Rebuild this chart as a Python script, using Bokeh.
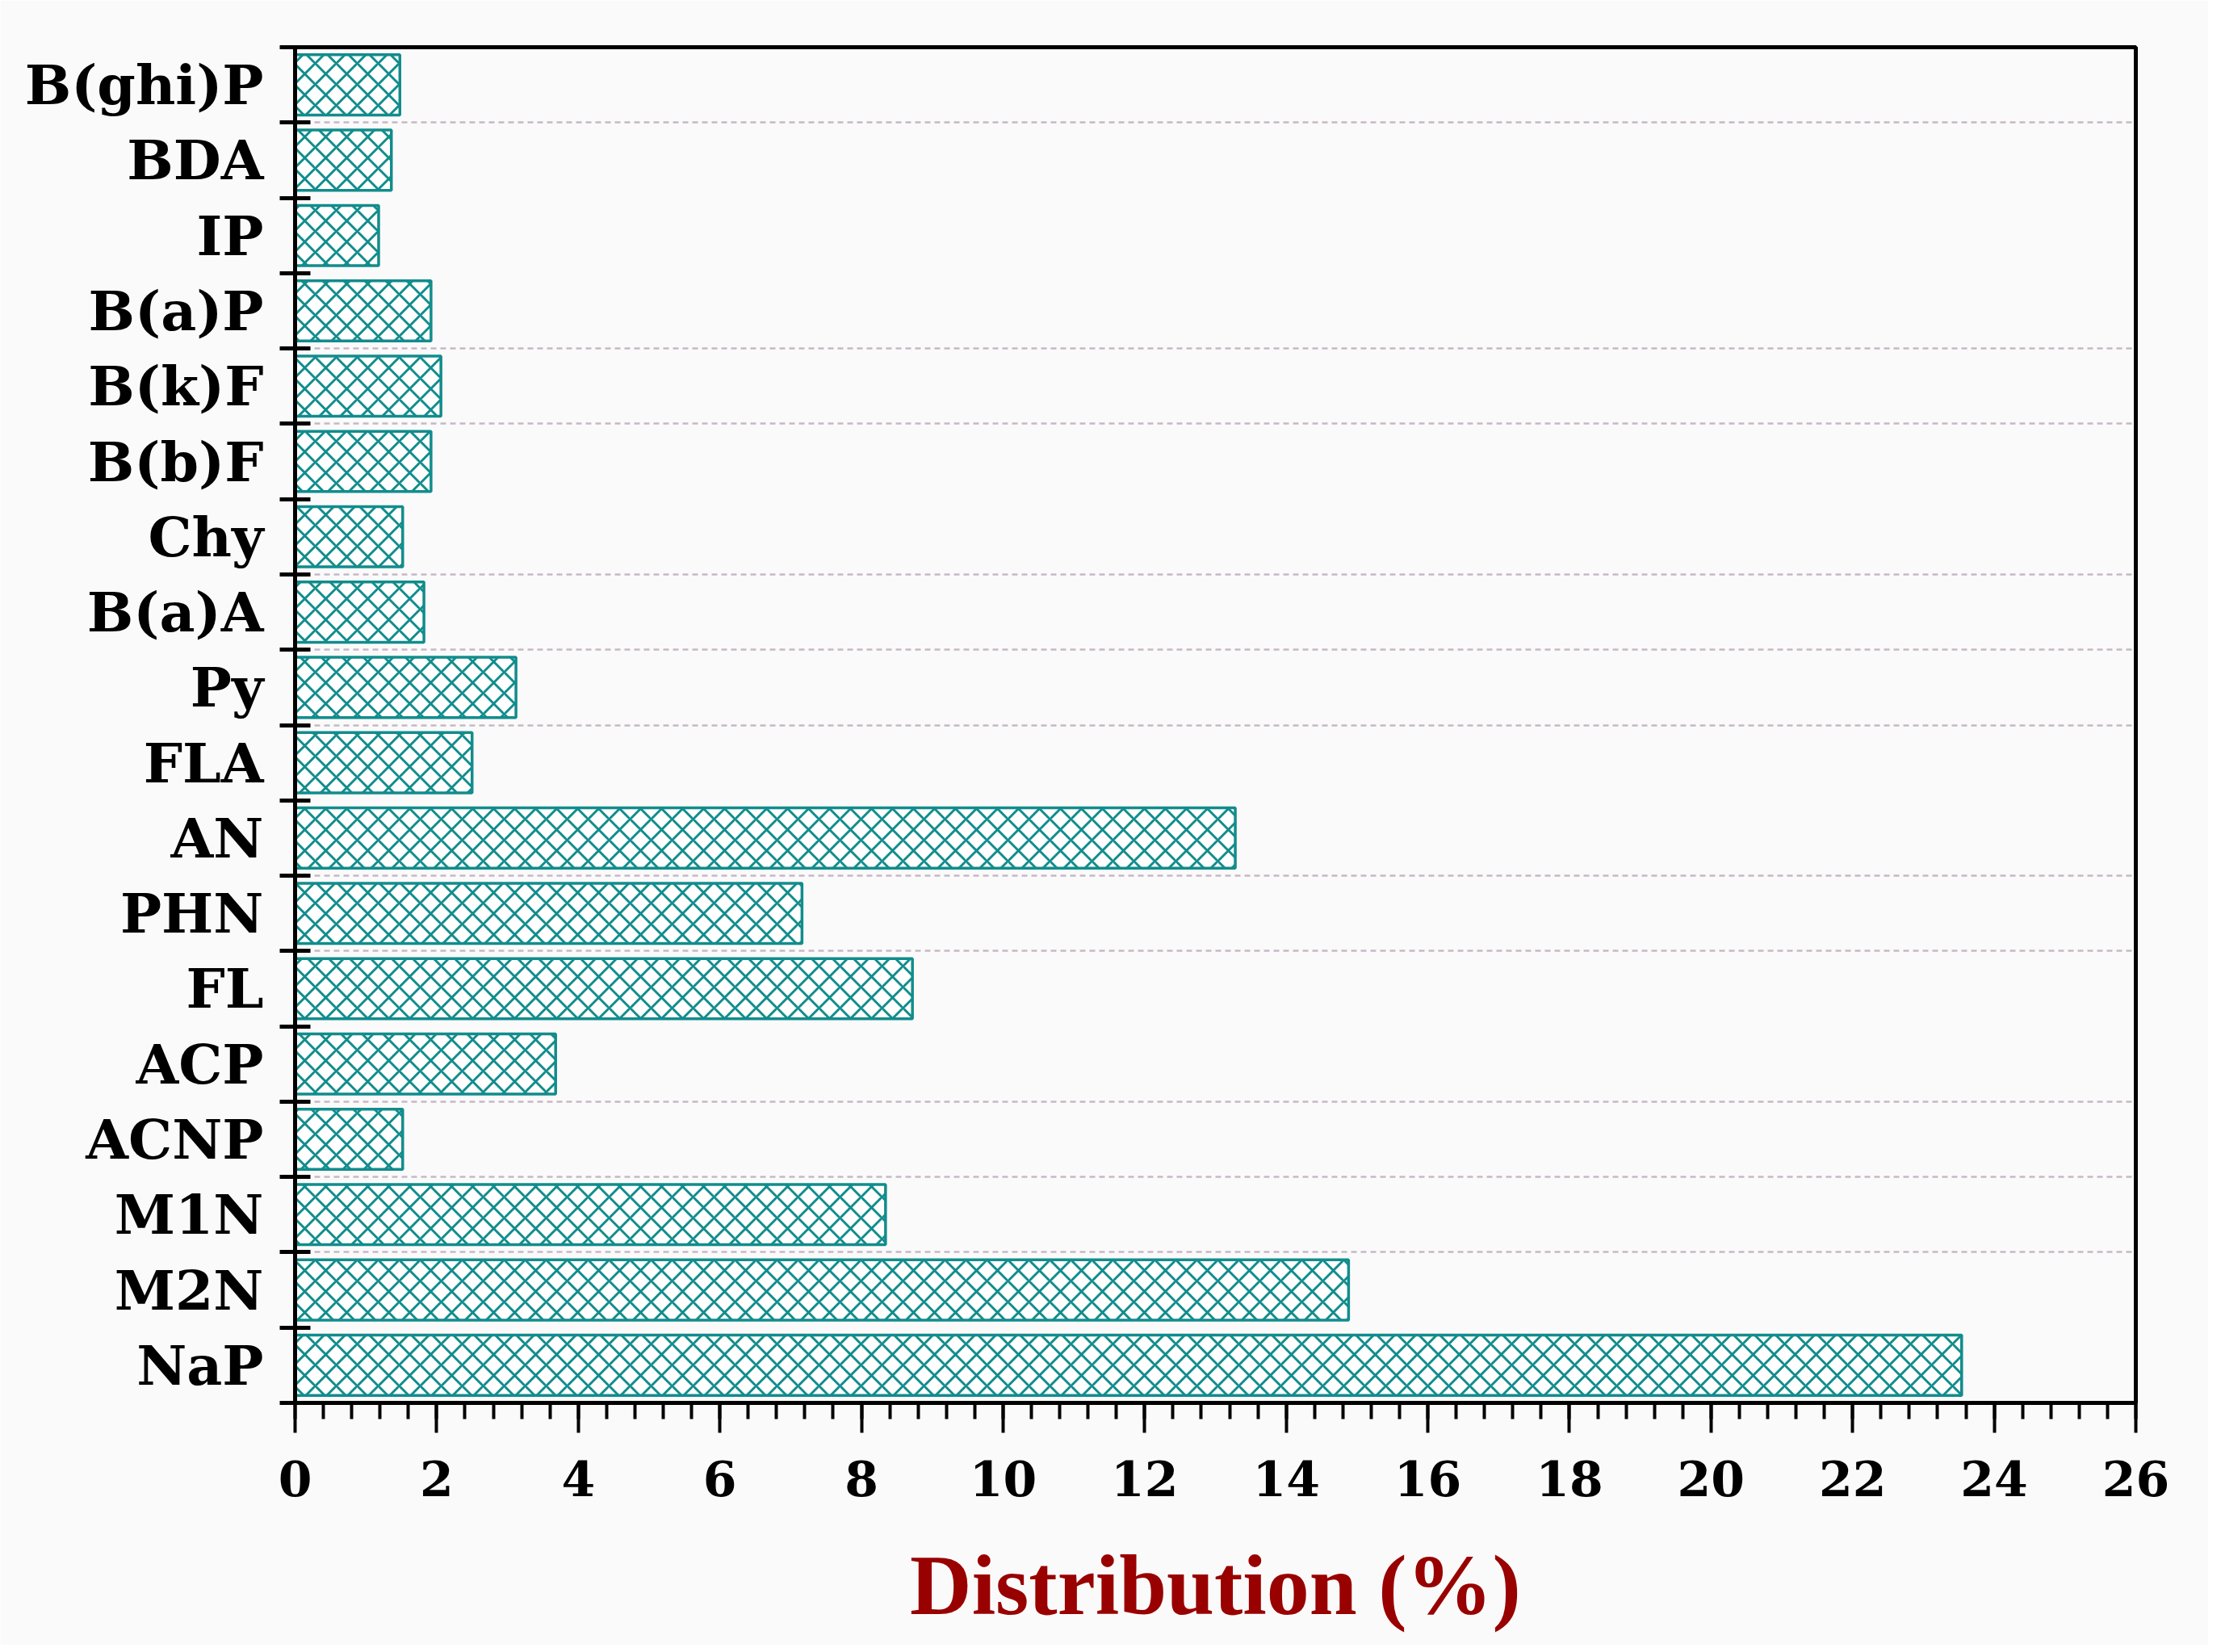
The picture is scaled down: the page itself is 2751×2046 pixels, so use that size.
from bokeh.plotting import figure
from bokeh.models import Range1d, FixedTicker, SingleIntervalTicker, ColumnDataSource
from bokeh.embed import file_html
from bokeh.resources import INLINE

# ---- data (top to bottom as in the chart) ----
compounds = ["B(ghi)P", "BDA", "IP", "B(a)P", "B(k)F", "B(b)F", "Chy", "B(a)A", "Py",
             "FLA", "AN", "PHN", "FL", "ACP", "ACNP", "M1N", "M2N", "NaP"]
distribution = [1.48, 1.36, 1.18, 1.92, 2.06, 1.92, 1.52, 1.82, 3.12,
                2.50, 13.28, 7.16, 8.72, 3.68, 1.52, 8.34, 14.88, 23.54]
x_label = "Distribution (%)"

n = len(compounds)
# position of each category (top = n-0.5 ... bottom = 0.5)
ypos = [n - i - 0.5 for i in range(n)]
boundaries = list(range(0, n + 1))
# dashed separators visible in the reference (counted from the top)
grid_from_top = [1, 4, 5, 7, 8, 9, 11, 12, 14, 15, 16]
grid_y = [n - k for k in grid_from_top]

BG = "#fbfafa"
TEAL = "#128c8c"

p = figure(width=2735, height=2037, output_backend="svg", toolbar_location=None,
           x_range=Range1d(0, 26), y_range=Range1d(0, n),
           min_border_left=365, min_border_right=90, min_border_top=58, min_border_bottom=300)
p.background_fill_color = BG
p.border_fill_color = BG
p.outline_line_color = "black"
p.outline_line_width = 5

src = ColumnDataSource(dict(y=ypos, v=distribution, name=compounds))
p.hbar(y="y", left=0, right="v", height=0.8, source=src,
       fill_color="white", line_color=TEAL, line_width=3.5,
       hatch_pattern="x", hatch_color=TEAL, hatch_scale=26, hatch_weight=3)

# x axis
xa = p.xaxis[0]
xa.ticker = SingleIntervalTicker(interval=2, num_minor_ticks=5)
xa.axis_line_width = 5
xa.major_tick_line_width = 4
xa.minor_tick_line_width = 4
xa.major_tick_out = 37
xa.major_tick_in = 0
xa.minor_tick_out = 20
xa.minor_tick_in = 0
xa.major_label_text_font = "DejaVu Serif"
xa.major_label_text_font_style = "bold"
xa.major_label_text_font_size = "60px"
xa.major_label_text_color = "black"
xa.major_label_standoff = 34
xa.axis_label = x_label
xa.axis_label_text_font = "Liberation Serif"
xa.axis_label_text_font_style = "bold"
xa.axis_label_text_font_size = "106px"
xa.axis_label_text_color = "#990000"
xa.axis_label_standoff = 49

# y axis: labels at category centres, tick marks at category boundaries
ya = p.yaxis[0]
ya.ticker = FixedTicker(ticks=ypos, minor_ticks=boundaries)
ya.major_label_overrides = {y: c for y, c in zip(ypos, compounds)}
ya.major_tick_line_color = None
ya.minor_tick_line_color = "black"
ya.minor_tick_line_width = 5
ya.minor_tick_in = 19
ya.minor_tick_out = 19
ya.axis_line_width = 5
ya.major_label_text_font = "DejaVu Serif"
ya.major_label_text_font_style = "bold"
ya.major_label_text_font_size = "68px"
ya.major_label_text_color = "black"
ya.major_label_standoff = 20

p.xgrid.grid_line_color = None
p.ygrid.ticker = FixedTicker(ticks=grid_y)
p.ygrid.grid_line_color = "#c6b9c6"
p.ygrid.grid_line_dash = "7 5"
p.ygrid.grid_line_width = 2.5

open("out.html", "w").write(file_html(p, INLINE))
